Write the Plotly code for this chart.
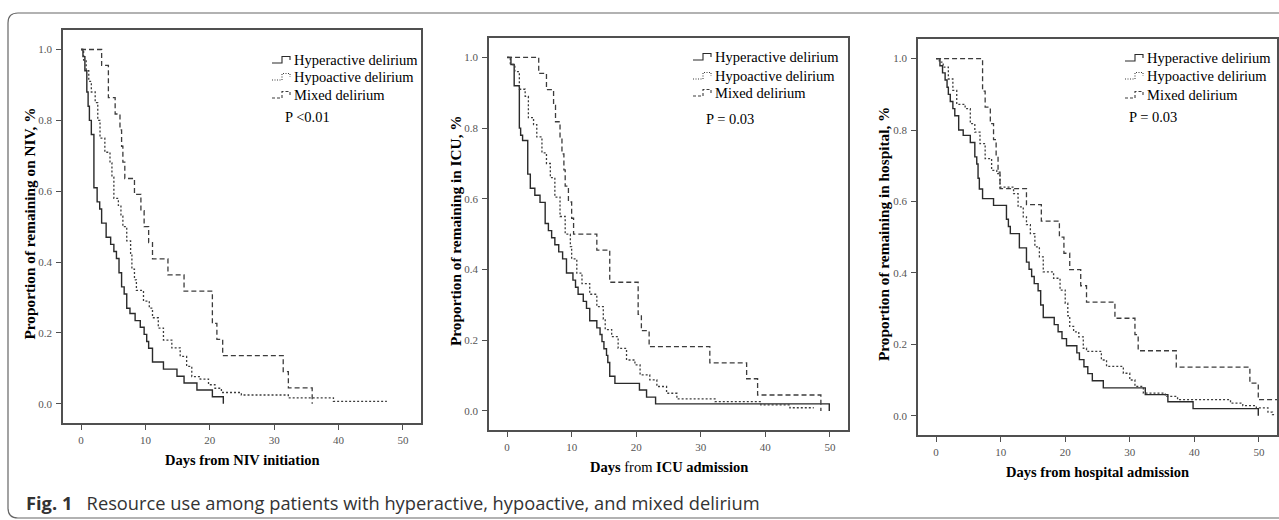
import plotly.graph_objects as go

W, H = 1279, 520

# ---------------- data: days vs proportion remaining (Kaplan-Meier steps) ----------------
categories = ["Hyperactive delirium", "Hypoactive delirium", "Mixed delirium"]

# Panel 1: remaining on NIV
niv_hyper_days = [0, 0.3, 0.6, 0.9, 1.1, 1.3, 1.6, 2.0, 2.5, 2.9, 3.2, 3.9, 4.6, 5.1, 5.5, 5.9, 6.3,
                  6.7, 7.1, 7.6, 8.4, 9.2, 9.8, 10.2, 10.5, 11.1, 12.8, 14.9, 16.0, 18.0, 20.4, 22.1]
niv_hyper_prop = [1.0, 0.98, 0.94, 0.88, 0.84, 0.80, 0.76, 0.61, 0.57, 0.55, 0.51, 0.47, 0.45, 0.43,
                  0.41, 0.37, 0.33, 0.31, 0.27, 0.255, 0.235, 0.216, 0.196, 0.176, 0.157, 0.118,
                  0.098, 0.078, 0.059, 0.039, 0.020, 0.0]
niv_hypo_days = [0, 0.4, 0.8, 1.2, 1.6, 2.2, 2.6, 2.95, 3.7, 4.5, 4.8, 5.1, 5.8, 6.2, 6.5, 7.1, 7.7,
                 7.9, 8.3, 8.6, 9.7, 10.6, 11.1, 12.0, 12.8, 14.1, 15.4, 16.4, 17.2, 18.5, 19.8,
                 20.8, 21.8, 24.9, 32.2, 39.2, 47.5]
niv_hypo_prop = [1.0, 0.97, 0.94, 0.91, 0.88, 0.85, 0.80, 0.75, 0.71, 0.68, 0.64, 0.58, 0.56, 0.53,
                 0.50, 0.46, 0.42, 0.38, 0.35, 0.32, 0.29, 0.27, 0.243, 0.214, 0.18, 0.158, 0.134,
                 0.106, 0.077, 0.07, 0.054, 0.044, 0.032, 0.025, 0.017, 0.007, 0.007]
niv_mixed_days = [0, 3.2, 4.25, 5.3, 6.05, 6.3, 6.5, 6.8, 8.3, 9.3, 9.8, 10.5, 11.1, 13.5, 16.0,
                  20.4, 21.1, 22.0, 31.4, 32.2, 35.9]
niv_mixed_prop = [1.0, 0.955, 0.864, 0.818, 0.773, 0.727, 0.682, 0.636, 0.591, 0.545, 0.500, 0.455,
                  0.409, 0.364, 0.318, 0.227, 0.182, 0.136, 0.091, 0.045, 0.0]

# Panel 2: remaining in ICU
icu_hyper_days = [0, 0.6, 1.1, 1.9, 2.1, 2.4, 3.2, 3.6, 4.3, 5.1, 5.9, 6.4, 6.9, 7.4, 8.0, 8.6, 9.2,
                  10.2, 10.6, 11.0, 11.8, 12.3, 12.8, 13.9, 14.4, 14.7, 15.0, 15.4, 15.6, 15.9, 16.7,
                  20.5, 21.6, 23.0, 49.9]
icu_hyper_prop = [1.0, 0.98, 0.92, 0.80, 0.78, 0.765, 0.67, 0.63, 0.61, 0.59, 0.53, 0.51, 0.49, 0.47,
                  0.45, 0.43, 0.39, 0.37, 0.35, 0.33, 0.31, 0.29, 0.255, 0.235, 0.216, 0.196, 0.176,
                  0.157, 0.137, 0.098, 0.078, 0.059, 0.039, 0.020, 0.0]
icu_hypo_days = [0, 0.5, 1.2, 1.9, 2.8, 3.3, 4.1, 4.6, 5.4, 6.1, 6.7, 7.4, 8.2, 9.0, 9.8, 10.0, 10.8,
                 11.6, 12.8, 13.9, 14.9, 15.2, 16.2, 17.2, 18.5, 19.8, 20.6, 22.1, 23.2, 24.7, 26.3,
                 32.2, 39.3, 43.8, 47.5]
icu_hypo_prop = [1.0, 0.98, 0.96, 0.91, 0.89, 0.83, 0.81, 0.775, 0.73, 0.70, 0.66, 0.605, 0.55, 0.50,
                 0.465, 0.43, 0.39, 0.36, 0.33, 0.295, 0.26, 0.23, 0.21, 0.177, 0.144, 0.13, 0.102,
                 0.088, 0.069, 0.05, 0.034, 0.026, 0.017, 0.009, 0.009]
icu_mixed_days = [0, 4.9, 6.1, 7.2, 7.5, 8.2, 8.5, 8.8, 9.0, 9.5, 10.0, 10.3, 13.9, 15.9, 20.3, 20.8,
                  22.0, 31.4, 37.1, 38.8, 48.6]
icu_mixed_prop = [1.0, 0.955, 0.909, 0.864, 0.818, 0.773, 0.727, 0.682, 0.636, 0.591, 0.545, 0.500,
                  0.455, 0.364, 0.273, 0.227, 0.182, 0.136, 0.091, 0.045, 0.0]

# Panel 3: remaining in hospital
hosp_hyper_days = [0, 0.6, 1.0, 1.4, 1.7, 1.9, 2.2, 2.6, 2.9, 3.5, 4.2, 5.3, 6.0, 6.3, 6.5, 6.7, 7.2,
                   8.9, 10.9, 11.2, 11.5, 12.9, 14.0, 14.4, 14.8, 15.2, 15.8, 16.2, 16.6, 18.3, 18.9,
                   19.5, 20.2, 21.8, 22.2, 22.9, 23.5, 24.2, 25.9, 32.4, 35.9, 39.8, 49.9]
hosp_hyper_prop = [1.0, 0.98, 0.96, 0.94, 0.92, 0.90, 0.88, 0.86, 0.84, 0.80, 0.785, 0.765, 0.725,
                   0.705, 0.665, 0.635, 0.608, 0.589, 0.55, 0.53, 0.51, 0.47, 0.43, 0.41, 0.39, 0.37,
                   0.35, 0.31, 0.275, 0.255, 0.235, 0.216, 0.196, 0.176, 0.157, 0.137, 0.118, 0.098,
                   0.078, 0.059, 0.039, 0.020, 0.0]
hosp_hypo_days = [0, 0.5, 1.1, 1.9, 2.6, 3.2, 4.5, 5.3, 6.0, 6.8, 7.6, 8.6, 9.4, 9.9, 12.0, 12.7,
                  13.5, 14.0, 14.6, 15.3, 16.0, 16.6, 18.2, 19.2, 20.0, 20.4, 20.7, 21.3, 22.1, 22.8,
                  23.3, 25.6, 26.4, 29.0, 30.0, 30.8, 32.1, 35.5, 37.4, 45.6, 47.5, 49.6, 51.4, 52.1,
                  52.4]
hosp_hypo_prop = [1.0, 0.99, 0.976, 0.943, 0.911, 0.872, 0.86, 0.818, 0.794, 0.762, 0.72, 0.687,
                  0.678, 0.64, 0.622, 0.585, 0.557, 0.535, 0.51, 0.473, 0.445, 0.403, 0.385, 0.352,
                  0.315, 0.28, 0.25, 0.235, 0.221, 0.189, 0.18, 0.156, 0.138, 0.119, 0.10, 0.082,
                  0.063, 0.054, 0.045, 0.035, 0.028, 0.022, 0.01, 0.003, 0.0]
hosp_mixed_days = [0, 7.2, 7.6, 8.4, 8.9, 9.3, 9.6, 9.9, 14.0, 16.3, 19.1, 19.8, 20.7, 22.4, 23.3,
                   27.7, 30.8, 31.3, 37.2, 48.6, 49.9, 53.5]
hosp_mixed_prop = [1.0, 0.909, 0.864, 0.818, 0.773, 0.727, 0.682, 0.636, 0.591, 0.545, 0.500,
                   0.455, 0.409, 0.364, 0.318, 0.273, 0.227, 0.182, 0.136, 0.091, 0.045, 0.045]

x_tick_vals = [0, 10, 20, 30, 40, 50]
y_tick_vals = [0.0, 0.2, 0.4, 0.6, 0.8, 1.0]
x_titles = ["<b>Days from NIV initiation</b>",
            "<b>Days</b> from <b>ICU admission</b>",
            "<b>Days from hospital admission</b>"]
y_titles = ["<b>Proportion of remaining on NIV, %</b>",
            "<b>Proportion of remaining in ICU, %</b>",
            "<b>Proportion of remaining in hospital, %</b>"]
p_texts = ["P <0.01", "P = 0.03", "P = 0.03"]
caption_label = "Fig. 1"
caption_text = "Resource use among patients with hyperactive, hypoactive, and mixed delirium"

panels = [
    [(niv_hyper_days, niv_hyper_prop), (niv_hypo_days, niv_hypo_prop), (niv_mixed_days, niv_mixed_prop)],
    [(icu_hyper_days, icu_hyper_prop), (icu_hypo_days, icu_hypo_prop), (icu_mixed_days, icu_mixed_prop)],
    [(hosp_hyper_days, hosp_hyper_prop), (hosp_hypo_days, hosp_hypo_prop), (hosp_mixed_days, hosp_mixed_prop)],
]

# ---------------- styling / layout geometry (pixels) ----------------
SERIF = "Liberation Serif, Times New Roman, serif"
SANS = "Open Sans, Noto Sans, sans-serif"
line_styles = [dict(color="#2a2a2a", width=1.4, dash="solid"),
               dict(color="#3c3c3c", width=1.3, dash="2px,2px"),
               dict(color="#3c3c3c", width=1.3, dash="5px,3px")]
boxes = [(63, 421, 30, 423), (489, 848, 38, 430), (918, 1277, 39, 435)]  # left, right, top, bottom
legend_pos = [(292, [60, 77, 95], (283, 117)),
              (713, [57, 76, 93], (704, 119)),
              (1145, [58, 76, 95], (1127, 117))]
X_RANGE = [-2.8, 52.8]
Y_RANGE = [-0.054, 1.055]


def px(x):
    return x / W


def py(y):
    return 1 - y / H


fig = go.Figure()
annotations = []
shapes = []

for i, series in enumerate(panels):
    sfx = "" if i == 0 else str(i + 1)
    for j, (d, p) in enumerate(series):
        fig.add_trace(go.Scatter(
            x=d, y=p, mode="lines", name=categories[j], showlegend=False,
            line=dict(shape="hv", **line_styles[j]),
            xaxis="x" + sfx, yaxis="y" + sfx, hoverinfo="x+y+name"))
    l, r, t, b = boxes[i]
    common = dict(showline=True, mirror=True, linecolor="#505050", linewidth=1.5,
                  ticks="outside", ticklen=5, tickwidth=1, tickcolor="#505050",
                  showgrid=False, zeroline=False,
                  tickfont=dict(family=SERIF, size=11, color="#555555"))
    fig.update_layout(**{
        "xaxis" + sfx: dict(domain=[px(l), px(r)], range=X_RANGE, tickvals=x_tick_vals,
                            anchor="y" + sfx, ticklabelstandoff=1, **common),
        "yaxis" + sfx: dict(domain=[py(b), py(t)], range=Y_RANGE, tickvals=y_tick_vals,
                            tickformat=".1f", anchor="x" + sfx, ticklabelstandoff=2, **common),
    })
    # axis titles
    annotations.append(dict(text=x_titles[i], x=px((l + r) / 2), y=py(b + 37), xref="paper",
                            yref="paper", showarrow=False, xanchor="center", yanchor="middle",
                            font=dict(family=SERIF, size=14.5, color="black")))
    annotations.append(dict(text=y_titles[i], x=px(l - 34), y=py((t + b) / 2 - 3), xref="paper",
                            yref="paper", showarrow=False, textangle=-90, xanchor="center",
                            yanchor="middle", font=dict(family=SERIF, size=15.3, color="black")))
    # legend (text + step-shaped glyphs)
    tx, ys, (ptx, pty) = legend_pos[i]
    for j, yy in enumerate(ys):
        annotations.append(dict(text=categories[j], x=px(tx), y=py(yy), xref="paper", yref="paper",
                                showarrow=False, xanchor="left", yanchor="middle",
                                font=dict(family=SERIF, size=14.5, color="black")))
        x0, x1, x2 = tx - 20, tx - 10, tx - 2
        path = (f"M {px(x0)},{py(yy + 3)} L {px(x1)},{py(yy + 3)} L {px(x1)},{py(yy - 3.5)} "
                f"L {px(x2)},{py(yy - 3.5)} L {px(x2)},{py(yy)}")
        st = line_styles[j]
        shapes.append(dict(type="path", path=path, xref="paper", yref="paper",
                           line=dict(color=st["color"], width=1.1,
                                     dash="solid" if j == 0 else ("1px,1.5px" if j == 1 else "3px,2px"))))
    annotations.append(dict(text=p_texts[i], x=px(ptx), y=py(pty), xref="paper", yref="paper",
                            showarrow=False, xanchor="left", yanchor="middle",
                            font=dict(family=SERIF, size=14.5, color="black")))

# outer rounded frame
fx0, fy0, fx1, fy1, rad = 8, 13, 1300, 518, 10
frame_path = (f"M {px(fx0)},{py(fy0 + rad)} Q {px(fx0)},{py(fy0)} {px(fx0 + rad)},{py(fy0)} "
              f"L {px(fx1)},{py(fy0)} L {px(fx1)},{py(fy1)} L {px(fx0 + rad)},{py(fy1)} "
              f"Q {px(fx0)},{py(fy1)} {px(fx0)},{py(fy1 - rad)} Z")
shapes.append(dict(type="path", path=frame_path, xref="paper", yref="paper",
                   line=dict(color="#666666", width=1.2), layer="below"))

# caption
annotations.append(dict(text=f"<b>{caption_label}</b>\u00a0\u00a0 {caption_text}", x=px(24), y=py(502),
                        xref="paper", yref="paper", showarrow=False, xanchor="left",
                        yanchor="middle", font=dict(family=SANS, size=18.3, color="#333333")))

fig.update_layout(width=W, height=H, margin=dict(l=0, r=0, t=0, b=0),
                  paper_bgcolor="white", plot_bgcolor="white",
                  showlegend=False, annotations=annotations, shapes=shapes)

fig.write_html("out.html", include_plotlyjs=True, config={"displayModeBar": False},
               post_script="document.body.style.margin='0';document.body.style.overflow='hidden';")
